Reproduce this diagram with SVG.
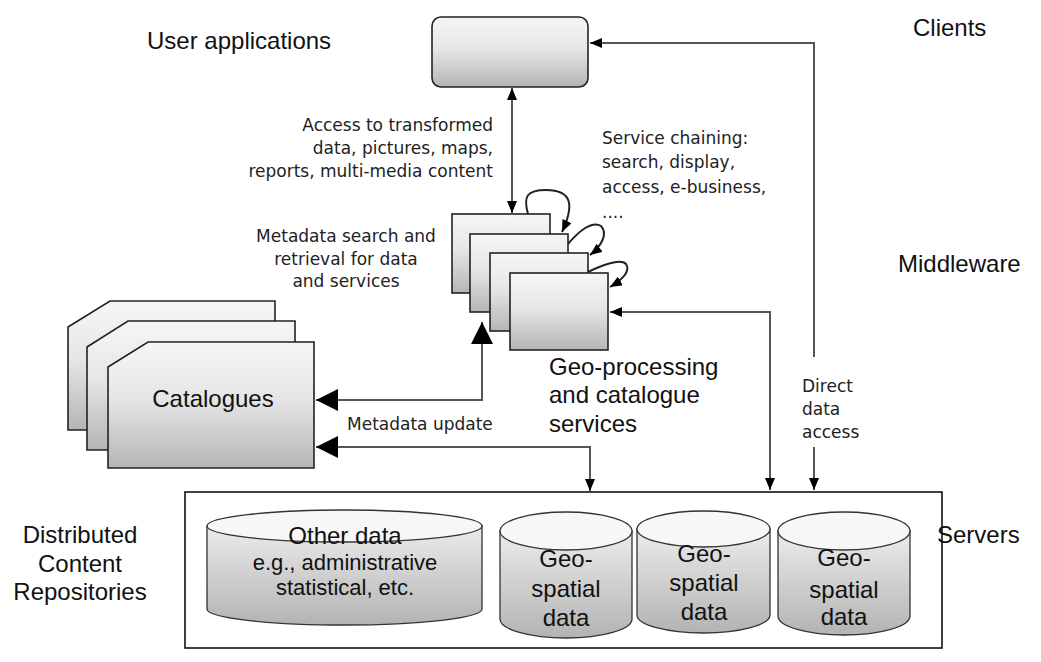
<svg xmlns="http://www.w3.org/2000/svg" width="1041" height="662" viewBox="0 0 1041 662">
<defs>
<linearGradient id="g" x1="0" y1="0" x2="0" y2="1"><stop offset="0" stop-color="#f6f6f6"/><stop offset="0.45" stop-color="#e6e6e6"/><stop offset="1" stop-color="#b5b5b5"/></linearGradient>
<linearGradient id="gc" x1="0" y1="0" x2="0" y2="1"><stop offset="0" stop-color="#ececec"/><stop offset="1" stop-color="#b3b3b3"/></linearGradient>
<marker id="sm" viewBox="0 0 12 10" refX="12" refY="5" markerWidth="12" markerHeight="10" markerUnits="userSpaceOnUse" orient="auto-start-reverse"><path d="M0,0 L12,5 L0,10 Z" fill="#000"/></marker>
<marker id="lg" viewBox="0 0 22 22" refX="22" refY="11" markerWidth="22" markerHeight="22" markerUnits="userSpaceOnUse" orient="auto-start-reverse"><path d="M0,0 L22,11 L0,22 Z" fill="#000"/></marker>
</defs>
<style>
.box{fill:url(#g);stroke:#222;stroke-width:1.6}
.cyl{fill:url(#gc);stroke:#333;stroke-width:1.3}
.top{fill:#f7f7f7;stroke:#333;stroke-width:1.3}
.ln{fill:none;stroke:#555;stroke-width:2}
.lp{fill:none;stroke:#222;stroke-width:2}
.a{font-family:"Liberation Sans",Arial,sans-serif;font-size:24px;fill:#111}
.t{font-family:"DejaVu Sans",Tahoma,sans-serif;font-size:17px;fill:#222}
</style>
<rect width="1041" height="662" fill="#fff"/>

<g id="labels">
<text class="a" x="147" y="49">User applications</text>
<text class="a" x="913" y="36">Clients</text>
<text class="a" x="898" y="272">Middleware</text>
<text class="a" x="937" y="543">Servers</text>
<text class="a" text-anchor="middle"><tspan x="80" y="543">Distributed</tspan><tspan x="80" y="572">Content</tspan><tspan x="80" y="600">Repositories</tspan></text>
</g>

<g id="user-app">
<rect class="box" x="432" y="17" width="156" height="70" rx="9"/>
</g>

<g id="services">
<rect class="box" x="452" y="214" width="98" height="79"/>
<rect class="box" x="470" y="234" width="98" height="78"/>
<rect class="box" x="490" y="253" width="98" height="78"/>
<rect class="box" x="510" y="273" width="98" height="77"/>
<text class="a"><tspan x="549" y="375">Geo-processing</tspan><tspan x="549" y="403">and catalogue</tspan><tspan x="549" y="432">services</tspan></text>
</g>

<g id="catalogues">
<path class="box" d="M68,327 L110,301 L275,301 L275,430 L68,430 Z"/>
<path class="box" d="M87,347 L128,321 L295,321 L295,450 L87,450 Z"/>
<path class="box" d="M108,367 L148,342 L314,342 L314,468 L108,468 Z"/>
<text class="a" x="213" y="407" text-anchor="middle">Catalogues</text>
</g>

<g id="servers">
<rect x="185" y="492" width="757" height="156" fill="none" stroke="#111" stroke-width="1.6"/>
</g>

<g id="other-data">
<path class="cyl" d="M207,526 L207,609 A137.5,16 0 0 0 482,609 L482,526 Z"/>
<ellipse class="top" cx="344.5" cy="526" rx="137.5" ry="16"/>
<text class="a" text-anchor="middle"><tspan x="345" y="544">Other data</tspan><tspan x="345" y="570" font-size="22">e.g., administrative</tspan><tspan x="345" y="595" font-size="22">statistical, etc.</tspan></text>
</g>

<g id="geo1">
<path class="cyl" d="M500,531 L500,619 A66,19 0 0 0 632,619 L632,531 Z"/>
<ellipse class="top" cx="566" cy="531" rx="66" ry="19"/>
<text class="a" text-anchor="middle"><tspan x="566" y="567">Geo-</tspan><tspan x="566" y="597">spatial</tspan><tspan x="566" y="626">data</tspan></text>
</g>
<g id="geo2">
<path class="cyl" d="M637,529 L637,615 A66.5,18 0 0 0 770,615 L770,529 Z"/>
<ellipse class="top" cx="703.5" cy="529" rx="66.5" ry="18"/>
<text class="a" text-anchor="middle"><tspan x="704" y="562">Geo-</tspan><tspan x="704" y="591">spatial</tspan><tspan x="704" y="620">data</tspan></text>
</g>
<g id="geo3">
<path class="cyl" d="M778,531 L778,616 A66,19 0 0 0 910,616 L910,531 Z"/>
<ellipse class="top" cx="844" cy="531" rx="66" ry="19"/>
<text class="a" text-anchor="middle"><tspan x="844" y="566">Geo-</tspan><tspan x="844" y="598">spatial</tspan><tspan x="844" y="625">data</tspan></text>
</g>

<g id="connectors">
<path class="ln" d="M512,88 L512,213" marker-start="url(#sm)" marker-end="url(#sm)"/>
<path class="ln" d="M814,357 L814,43 L590,43" marker-end="url(#sm)"/>
<path class="ln" d="M814,447 L814,490" marker-end="url(#sm)"/>
<path class="ln" d="M770,490 L770,312 L610,312" marker-start="url(#sm)" marker-end="url(#sm)"/>
<path class="ln" d="M482,322 L482,400 L316,400" marker-start="url(#lg)" marker-end="url(#lg)"/>
<path class="ln" d="M316,447 L590,447 L590,491" marker-start="url(#lg)" marker-end="url(#sm)"/>
<path class="lp" d="M528,214 C523,196 527,190 546,190 C573,190 574,206 562,232" marker-end="url(#sm)"/>
<path class="lp" d="M568,244 C578,232 592,220 601,226 C608,233 602,246 590,255" marker-end="url(#sm)"/>
<path class="lp" d="M588,272 C600,266 620,258 626,264 C631,271 622,280 610,287" marker-end="url(#sm)"/>
<text class="t" text-anchor="end"><tspan x="493" y="131">Access to transformed</tspan><tspan x="493" y="154">data, pictures, maps,</tspan><tspan x="493" y="177">reports, multi-media content</tspan></text>
<text class="t" text-anchor="middle"><tspan x="346" y="242">Metadata search and</tspan><tspan x="346" y="265">retrieval for data</tspan><tspan x="346" y="287">and services</tspan></text>
<text class="t"><tspan x="602" y="144">Service chaining:</tspan><tspan x="602" y="168">search, display,</tspan><tspan x="602" y="193">access, e-business,</tspan><tspan x="602" y="218">....</tspan></text>
<text class="t" x="347" y="430">Metadata update</text>
<text class="t"><tspan x="802" y="392">Direct</tspan><tspan x="802" y="415">data</tspan><tspan x="802" y="438">access</tspan></text>
</g>
</svg>
